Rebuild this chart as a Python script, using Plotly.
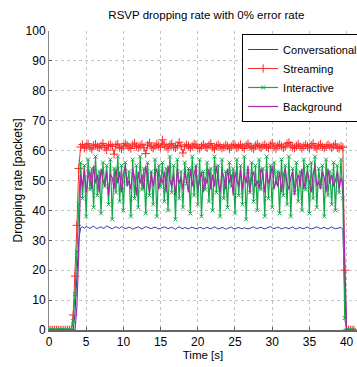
import numpy as np
import plotly.graph_objects as go

# Time axis: 0 to 41 s sampled every 0.25 s
time_s = np.round(np.arange(0, 41.0001, 0.25), 2)

zeros_start = [0] * 13          # 0.00 .. 3.00 s
zeros_end = [0] * 5             # 40.00 .. 41.00 s

conv_ramp = [0, 6, 18, 30]
conv_plateau = [
    34.2, 34.5, 34.1, 34.6, 34.3, 34.0, 34.4, 34.7, 34.2, 33.9,
    34.3, 34.5, 34.0, 34.2, 34.8, 34.4, 34.1, 33.8, 34.3, 34.5,
    34.2, 34.0, 34.6, 34.3, 33.9, 34.1, 34.4, 34.2, 33.7, 34.0,
    34.3, 34.5, 34.1, 33.8, 34.2, 34.6, 34.3, 34.0, 33.9, 34.2,
    34.4, 34.1, 33.8, 34.0, 34.3, 34.5, 34.2, 33.9, 34.1, 34.4,
    34.0, 33.7, 34.2, 34.5, 34.1, 33.9, 34.3, 34.0, 33.8, 34.2,
    34.4, 34.1, 33.9, 34.0, 34.3, 34.2, 33.8, 34.1, 34.4, 34.0,
    33.9, 34.2, 34.5, 34.1, 33.8, 34.0, 34.3, 34.1, 33.7, 34.0,
    34.2, 34.4, 34.0, 33.8, 34.1, 34.3, 34.0, 33.9, 34.2, 34.1,
    33.8, 34.0, 34.3, 34.5, 34.1, 33.9, 34.2, 34.4, 34.0, 33.8,
    34.1, 34.3, 34.6, 34.2, 33.9, 34.1, 34.4, 34.2, 33.8, 34.0,
    34.3, 34.1, 33.9, 34.2, 34.5, 34.0, 33.8, 34.1, 34.3, 34.0,
    33.9, 34.2, 34.4, 34.1, 33.8, 34.0, 34.3, 34.5, 34.2, 33.9,
    34.1, 34.4, 34.0, 33.8, 34.2, 34.5, 34.1, 33.9, 34.0, 34.2,
    34.3, 33.6,
]
conv_drop = [12]

stream_ramp = [5, 18, 35, 54]
stream_plateau = [
    61.2, 62.0, 60.8, 61.5, 62.3, 61.0, 60.5, 61.8, 62.1, 61.3,
    60.9, 61.6, 62.4, 61.1, 60.2, 61.7, 62.0, 61.4, 58.8, 61.9,
    62.2, 61.0, 60.6, 61.5, 62.3, 61.8, 61.2, 60.7, 61.9, 62.5,
    61.4, 60.9, 61.6, 62.1, 61.0, 59.0, 61.8, 62.6, 61.3, 60.8,
    61.5, 62.2, 61.7, 61.1, 63.6, 62.0, 61.4, 60.6, 61.9, 62.3,
    61.2, 60.9, 61.7, 62.8, 61.5, 59.2, 61.3, 62.0, 61.6, 60.8,
    61.4, 62.2, 61.9, 61.0, 60.7, 61.5, 62.1, 61.3, 60.9, 61.8,
    62.4, 61.1, 60.5, 61.6, 62.0, 61.4, 60.8, 61.2, 61.9, 61.5,
    60.6, 61.3, 62.1, 61.7, 60.9, 61.4, 62.0, 61.2, 60.7, 61.8,
    62.3, 61.5, 61.0, 60.6, 61.7, 62.2, 61.4, 60.9, 61.6, 62.0,
    61.3, 60.8, 61.9, 62.5, 61.2, 60.6, 61.7, 62.1, 61.4, 60.9,
    61.5, 62.3, 62.7, 61.8, 61.1, 60.8, 61.6, 62.2, 61.3, 60.7,
    61.5, 62.0, 61.4, 60.9, 61.8, 62.4, 61.2, 60.6, 61.7, 62.1,
    61.3, 60.8, 61.5, 62.0, 61.4, 60.9, 61.6, 62.2, 61.0, 60.7,
    61.5, 61.1,
]
stream_drop = [20]

inter_ramp = [3, 12, 26, 42]
inter_plateau = [
    56, 44, 55, 38, 57, 47, 54, 41, 58, 45,
    53, 39, 56, 48, 55, 42, 57, 37, 54, 46,
    58, 43, 55, 40, 56, 49, 53, 38, 57, 44,
    55, 41, 58, 47, 54, 39, 56, 45, 53, 42,
    57, 38, 55, 48, 56, 43, 54, 40, 58, 46,
    55, 37, 57, 44, 53, 41, 56, 49, 54, 39,
    58, 45, 55, 42, 57, 38, 53, 47, 56, 43,
    54, 40, 58, 46, 55, 38, 57, 44, 53, 41,
    56, 48, 54, 39, 57, 45, 55, 42, 58, 37,
    53, 46, 56, 43, 55, 40, 57, 47, 54, 38,
    58, 44, 55, 41, 56, 49, 53, 39, 57, 45,
    55, 42, 58, 38, 54, 46, 56, 43, 53, 40,
    57, 47, 55, 39, 56, 44, 58, 41, 54, 48,
    55, 38, 57, 45, 53, 42, 56, 40, 55, 46,
    57, 44,
]
inter_drop = [4]

back_ramp = [0, 0, 8, 26]
back_plateau = [
    52, 48, 54, 46, 51, 53, 47, 55, 49, 52,
    46, 54, 50, 48, 53, 45, 52, 51, 47, 54,
    49, 53, 46, 52, 55, 48, 50, 47, 54, 51,
    45, 53, 49, 52, 47, 55, 50, 46, 53, 48,
    52, 54, 47, 51, 49, 53, 46, 55, 50, 48,
    52, 45, 54, 49, 51, 47, 53, 50, 46, 54,
    48, 52, 55, 47, 50, 53, 46, 51, 49, 54,
    47, 52, 48, 55, 50, 46, 53, 51, 47, 54,
    49, 52, 45, 53, 50, 48, 54, 47, 52, 49,
    55, 46, 51, 53, 48, 50, 47, 54, 52, 46,
    53, 49, 51, 55, 47, 50, 48, 53, 46, 52,
    54, 49, 47, 51, 53, 45, 50, 52, 48, 54,
    47, 51, 53, 49, 46, 52, 55, 48, 50, 47,
    53, 51, 46, 54, 49, 52, 48, 50, 53, 47,
    51, 49,
]
back_drop = [28]

conversational = zeros_start + conv_ramp + conv_plateau + conv_drop + zeros_end
streaming = zeros_start + stream_ramp + stream_plateau + stream_drop + zeros_end
interactive = zeros_start + inter_ramp + inter_plateau + inter_drop + zeros_end
background = zeros_start + back_ramp + back_plateau + back_drop + zeros_end

FONT = "Liberation Sans, Arial, sans-serif"

fig = go.Figure()
fig.add_trace(go.Scatter(
    x=time_s, y=conversational, name="Conversational", mode="lines",
    line=dict(color="#2a3aa0", width=1)))
fig.add_trace(go.Scatter(
    x=time_s, y=streaming, name="Streaming", mode="lines+markers",
    line=dict(color="#ff2a2a", width=1),
    marker=dict(symbol="cross-thin", size=6, line=dict(color="#ff2a2a", width=1))))
fig.add_trace(go.Scatter(
    x=time_s, y=interactive, name="Interactive", mode="lines+markers",
    line=dict(color="#14a64a", width=1.2),
    marker=dict(symbol="x-thin", size=4, line=dict(color="#14a64a", width=1))))
fig.add_trace(go.Scatter(
    x=time_s, y=background, name="Background", mode="lines",
    line=dict(color="#a82aa8", width=1.2)))

grid = dict(showgrid=True, gridcolor="#c4c4c4", griddash="dot", gridwidth=1)

fig.update_layout(
    width=357, height=367,
    margin=dict(l=49, r=0, t=31, b=37, autoexpand=False),
    paper_bgcolor="white", plot_bgcolor="white",
    font=dict(family=FONT, size=12, color="black"),
    title=dict(text="RSVP dropping rate with 0% error rate",
               x=0.578, xanchor="center", y=0.958, yanchor="middle",
               font=dict(family=FONT, size=11.5, color="black")),
    legend=dict(x=0.627, y=0.99, xanchor="left", yanchor="top",
                bgcolor="white", bordercolor="black", borderwidth=1,
                font=dict(family=FONT, size=11), tracegroupgap=0,
                itemwidth=30),
    xaxis=dict(range=[0, 41.4], tickvals=[0, 5, 10, 15, 20, 25, 30, 35, 40],
               ticks="inside", ticklen=3, tickcolor="#555",
               showline=True, linecolor="#666", linewidth=2,
               zeroline=False, tickfont=dict(size=12),
               title=dict(text="Time [s]", standoff=3,
                          font=dict(family=FONT, size=11.5)),
               **grid),
    yaxis=dict(range=[0, 100], tickvals=list(range(0, 101, 10)),
               ticks="inside", ticklen=3, tickcolor="#555",
               showline=True, linecolor="#888", linewidth=1,
               zeroline=False, tickfont=dict(size=12),
               title=dict(text="Dropping rate [packets]", standoff=0,
                          font=dict(family=FONT, size=12)),
               **grid),
)

fig.write_html("out.html")
